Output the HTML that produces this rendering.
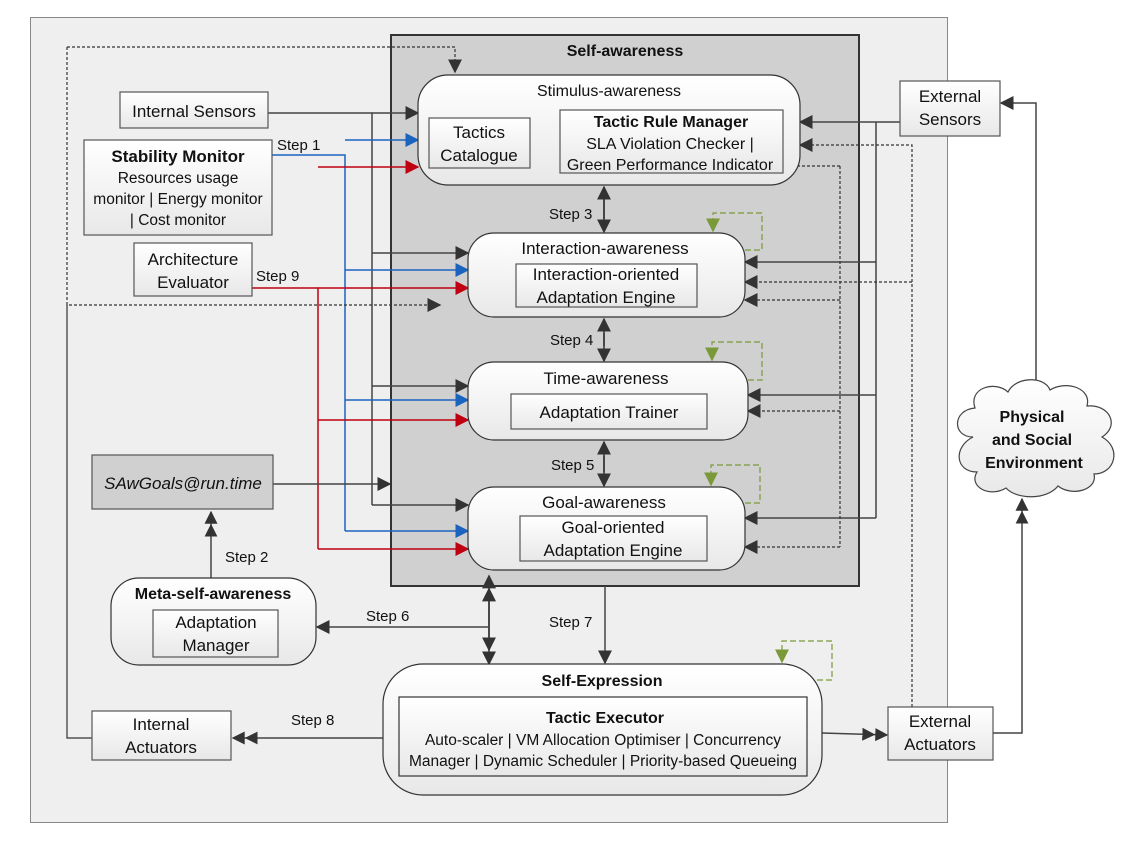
<!DOCTYPE html>
<html><head><meta charset="utf-8"><style>
html,body{margin:0;padding:0;background:#fff}
svg{display:block;font-family:"Liberation Sans",sans-serif}
text{fill:#111}
</style></head><body>
<svg width="1136" height="846" viewBox="0 0 1136 846" xmlns="http://www.w3.org/2000/svg">
<defs>
<linearGradient id="g" x1="0" y1="0" x2="0" y2="1"><stop offset="0" stop-color="#ffffff"/><stop offset="1" stop-color="#e8e8e8"/></linearGradient>
<marker id="ab" viewBox="0 0 10 10" refX="9" refY="5" markerWidth="14" markerHeight="14" markerUnits="userSpaceOnUse" orient="auto"><path d="M0,0L10,5L0,10z" fill="#333"/></marker>
<marker id="abl" viewBox="0 0 10 10" refX="9" refY="5" markerWidth="14" markerHeight="14" markerUnits="userSpaceOnUse" orient="auto"><path d="M0,0L10,5L0,10z" fill="#1a64c0"/></marker>
<marker id="ar" viewBox="0 0 10 10" refX="9" refY="5" markerWidth="14" markerHeight="14" markerUnits="userSpaceOnUse" orient="auto"><path d="M0,0L10,5L0,10z" fill="#c00010"/></marker>
<marker id="ag" viewBox="0 0 10 10" refX="9" refY="5" markerWidth="14" markerHeight="14" markerUnits="userSpaceOnUse" orient="auto"><path d="M0,0L10,5L0,10z" fill="#7a9a3a"/></marker>
<marker id="ad" viewBox="0 0 20 10" refX="19" refY="5" markerWidth="26" markerHeight="13" markerUnits="userSpaceOnUse" orient="auto"><path d="M0,0L10,5L0,10zM10,0L20,5L10,10z" fill="#333"/></marker>
<marker id="as" viewBox="0 0 10 10" refX="1" refY="5" markerWidth="14" markerHeight="14" markerUnits="userSpaceOnUse" orient="auto-start-reverse"><path d="M0,0L10,5L0,10z" fill="#333"/></marker>
</defs>
<rect x="0" y="0" width="1136" height="846" fill="#fff"/>
<rect x="30.5" y="17.5" width="917" height="805" fill="#efefef" stroke="#888"/>
<rect x="391" y="35" width="468" height="551" fill="#d0d0d0" stroke="#333" stroke-width="2"/>
<text x="625" y="56" font-size="16" font-weight="bold" text-anchor="middle">Self-awareness</text>

<g fill="none" stroke-width="1.5">
<path d="M268,113H372V505" stroke="#444"/>
<path d="M372,113H418" stroke="#444" marker-end="url(#ab)"/>
<path d="M372,253H468" stroke="#444" marker-end="url(#ab)"/>
<path d="M372,386H468" stroke="#444" marker-end="url(#ab)"/>
<path d="M372,505H468" stroke="#444" marker-end="url(#ab)"/>
<path d="M272,155H345V531" stroke="#1a64c0"/>
<path d="M345,140H418" stroke="#1a64c0" marker-end="url(#abl)"/>
<path d="M345,270H468" stroke="#1a64c0" marker-end="url(#abl)"/>
<path d="M345,400H468" stroke="#1a64c0" marker-end="url(#abl)"/>
<path d="M345,531H468" stroke="#1a64c0" marker-end="url(#abl)"/>
<path d="M252,288H318V549" stroke="#c00010"/>
<path d="M318,167H418" stroke="#c00010" marker-end="url(#ar)"/>
<path d="M318,288H468" stroke="#c00010" marker-end="url(#ar)"/>
<path d="M318,420H468" stroke="#c00010" marker-end="url(#ar)"/>
<path d="M318,549H468" stroke="#c00010" marker-end="url(#ar)"/>
<path d="M273,484H390" stroke="#444" marker-end="url(#ab)"/>
<path d="M67,47H455V72" stroke="#333" stroke-dasharray="3,2" stroke-width="1.2" marker-end="url(#ab)"/>
<path d="M67,47V305H440" stroke="#333" stroke-dasharray="3,2" stroke-width="1.2" marker-end="url(#ab)"/>
<path d="M67,305V738H92" stroke="#333" stroke-width="1.2"/>
<path d="M900,122H800" stroke="#444" marker-end="url(#ab)"/>
<path d="M876,122V518" stroke="#444"/>
<path d="M876,262H745" stroke="#444" marker-end="url(#ab)"/>
<path d="M876,395H748" stroke="#444" marker-end="url(#ab)"/>
<path d="M876,518H745" stroke="#444" marker-end="url(#ab)"/>
<path d="M912,707V145H800" stroke="#333" stroke-dasharray="3,2" stroke-width="1.2" marker-end="url(#ab)"/>
<path d="M912,282H745" stroke="#333" stroke-dasharray="3,2" stroke-width="1.2" marker-end="url(#ab)"/>
<path d="M840,166V547" stroke="#333" stroke-dasharray="3,2" stroke-width="1.2"/>
<path d="M840,166H768" stroke="#333" stroke-dasharray="3,2" stroke-width="1.2" marker-end="url(#ab)"/>
<path d="M840,300H745" stroke="#333" stroke-dasharray="3,2" stroke-width="1.2" marker-end="url(#ab)"/>
<path d="M840,411H748" stroke="#333" stroke-dasharray="3,2" stroke-width="1.2" marker-end="url(#ab)"/>
<path d="M840,547H745" stroke="#333" stroke-dasharray="3,2" stroke-width="1.2" marker-end="url(#ab)"/>
<path d="M745,250H762V213H713V231" stroke="#7a9a3a" stroke-dasharray="6,3" stroke-width="1.2" marker-end="url(#ag)"/>
<path d="M748,380H762V342H712V360" stroke="#7a9a3a" stroke-dasharray="6,3" stroke-width="1.2" marker-end="url(#ag)"/>
<path d="M745,503H760V465H711V485" stroke="#7a9a3a" stroke-dasharray="6,3" stroke-width="1.2" marker-end="url(#ag)"/>
<path d="M817,680H832V641H782V662" stroke="#7a9a3a" stroke-dasharray="6,3" stroke-width="1.2" marker-end="url(#ag)"/>
<path d="M604,199V232" stroke="#333" marker-end="url(#ab)"/>
<path d="M604,219V187" stroke="#333" marker-end="url(#ab)"/>
<path d="M604,333V361" stroke="#333" marker-end="url(#ab)"/>
<path d="M604,346V319" stroke="#333" marker-end="url(#ab)"/>
<path d="M604,456V486" stroke="#333" marker-end="url(#ab)"/>
<path d="M604,472V442" stroke="#333" marker-end="url(#ab)"/>
<path d="M489,587V664" stroke="#333" marker-start="url(#as)" marker-end="url(#ab)"/>
<path d="M489,600V650" stroke="#333" marker-start="url(#as)" marker-end="url(#ab)"/>
<path d="M489,627H317" stroke="#444" marker-end="url(#ab)"/>
<path d="M605,586V663" stroke="#444" marker-end="url(#ab)"/>
<path d="M211,578V512" stroke="#444" marker-end="url(#ad)"/>
<path d="M383,738H233" stroke="#444" marker-end="url(#ad)"/>
<path d="M822,733L887,735" stroke="#444" marker-end="url(#ad)"/>
<path d="M993,733H1022V499" stroke="#444" marker-end="url(#ad)"/>
<path d="M1036,392V103H1001" stroke="#444" marker-end="url(#ab)"/>
<path d="M530,143H559" stroke="#444" marker-end="url(#ab)"/>
</g>

<g stroke="#555" stroke-width="1.2">
<rect x="120" y="92" width="148" height="36" fill="url(#g)"/>
<rect x="84" y="140" width="188" height="95" fill="url(#g)"/>
<rect x="134" y="243" width="118" height="53" fill="url(#g)"/>
<rect x="92" y="455" width="181" height="54" fill="#d0d0d0"/>
<rect x="111" y="578" width="205" height="87" rx="28" fill="url(#g)" stroke="#333"/>
<rect x="153" y="610" width="125" height="47" fill="url(#g)"/>
<rect x="92" y="711" width="139" height="49" fill="url(#g)"/>
<rect x="418" y="75" width="382" height="110" rx="30" fill="url(#g)" stroke="#333"/>
<rect x="429" y="118" width="101" height="50" fill="url(#g)"/>
<rect x="560" y="110" width="223" height="63" fill="url(#g)"/>
<rect x="468" y="233" width="277" height="84" rx="26" fill="url(#g)" stroke="#333"/>
<rect x="516" y="264" width="181" height="43" fill="url(#g)"/>
<rect x="468" y="362" width="280" height="78" rx="26" fill="url(#g)" stroke="#333"/>
<rect x="511" y="394" width="196" height="35" fill="url(#g)"/>
<rect x="468" y="487" width="277" height="83" rx="26" fill="url(#g)" stroke="#333"/>
<rect x="520" y="516" width="187" height="45" fill="url(#g)"/>
<rect x="383" y="664" width="439" height="131" rx="40" fill="url(#g)" stroke="#333"/>
<rect x="399" y="697" width="408" height="79" fill="url(#g)" stroke="#333"/>
<rect x="900" y="81" width="100" height="55" fill="url(#g)"/>
<rect x="888" y="707" width="105" height="53" fill="url(#g)"/>
<path transform="translate(0,-8)" d="M973,445 C952,445 952,418 975,416 C968,396 995,388 1008,400 C1016,384 1045,384 1050,398 C1066,388 1092,396 1087,414 C1110,412 1120,434 1102,445 C1122,456 1115,482 1094,482 C1098,498 1072,505 1058,494 C1047,508 1017,508 1006,496 C990,506 968,495 977,480 C955,480 953,455 973,445Z" fill="url(#g)" stroke="#444"/>
</g>

<g font-size="17" text-anchor="middle">
<text x="194" y="117">Internal Sensors</text>
<text x="178" y="162" font-weight="bold">Stability Monitor</text>
<text x="178" y="183" font-size="15.5">Resources usage</text>
<text x="178" y="204" font-size="15.5">monitor | Energy monitor</text>
<text x="178" y="225" font-size="15.5">| Cost monitor</text>
<text x="193" y="265">Architecture</text>
<text x="193" y="288">Evaluator</text>
<text x="183" y="489" font-style="italic">SAwGoals@run.time</text>
<text x="213" y="599" font-weight="bold" font-size="16">Meta-self-awareness</text>
<text x="216" y="628">Adaptation</text>
<text x="216" y="651">Manager</text>
<text x="161" y="730">Internal</text>
<text x="161" y="753">Actuators</text>
<text x="609" y="96" font-size="16">Stimulus-awareness</text>
<text x="479" y="138">Tactics</text>
<text x="479" y="161">Catalogue</text>
<text x="671" y="127" font-weight="bold" font-size="16">Tactic Rule Manager</text>
<text x="670" y="149" font-size="16">SLA Violation Checker |</text>
<text x="670" y="170" font-size="16">Green Performance Indicator</text>
<text x="605" y="254">Interaction-awareness</text>
<text x="606" y="280">Interaction-oriented</text>
<text x="606" y="303">Adaptation Engine</text>
<text x="606" y="384">Time-awareness</text>
<text x="609" y="418">Adaptation Trainer</text>
<text x="604" y="508">Goal-awareness</text>
<text x="613" y="533">Goal-oriented</text>
<text x="613" y="556">Adaptation Engine</text>
<text x="602" y="686" font-weight="bold" font-size="16">Self-Expression</text>
<text x="605" y="723" font-weight="bold" font-size="16">Tactic Executor</text>
<text x="603" y="745" font-size="15.5">Auto-scaler | VM Allocation Optimiser |  Concurrency</text>
<text x="603" y="766" font-size="15.5">Manager | Dynamic Scheduler | Priority-based Queueing</text>
<text x="950" y="102">External</text>
<text x="950" y="125">Sensors</text>
<text x="940" y="727">External</text>
<text x="940" y="750">Actuators</text>
<text x="1032" y="422" font-weight="bold" font-size="16">Physical</text>
<text x="1032" y="445" font-weight="bold" font-size="16">and Social</text>
<text x="1034" y="468" font-weight="bold" font-size="16">Environment</text>
</g>
<g font-size="15">
<text x="277" y="150">Step 1</text>
<text x="256" y="281">Step 9</text>
<text x="549" y="219">Step 3</text>
<text x="550" y="345">Step 4</text>
<text x="551" y="470">Step 5</text>
<text x="225" y="562">Step 2</text>
<text x="366" y="621">Step 6</text>
<text x="549" y="627">Step 7</text>
<text x="291" y="725">Step 8</text>
</g>
</svg>
</body></html>
